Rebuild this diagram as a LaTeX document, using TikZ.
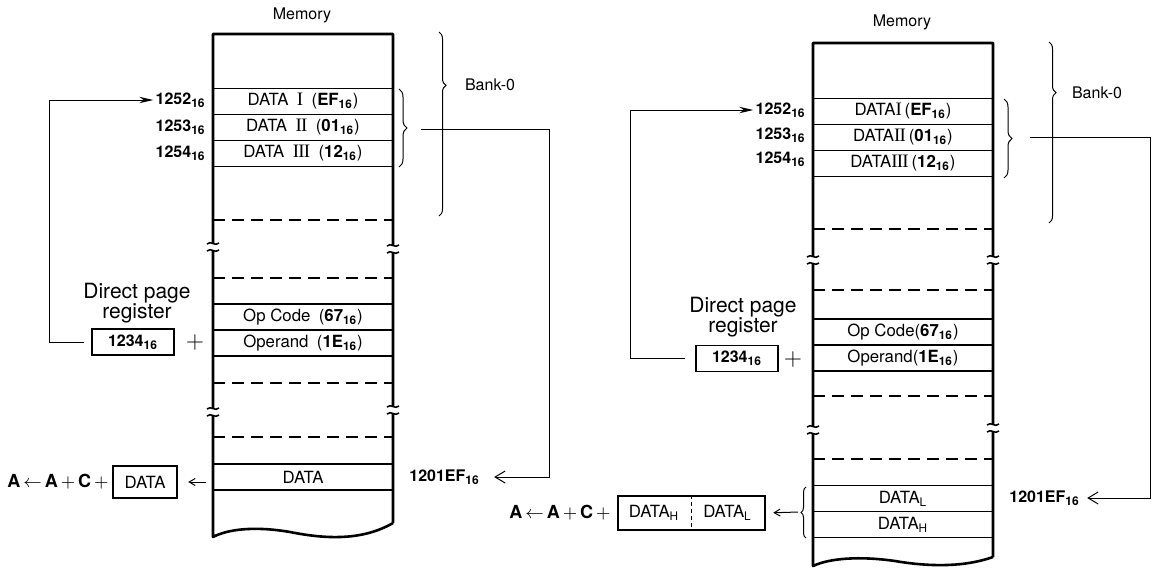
\documentclass[tikz,border=0pt]{standalone}
\usepackage{fontspec}
\setmainfont{TeX Gyre Heros}
\newfontfamily\romfont{Liberation Serif}
\usetikzlibrary{arrows.meta,decorations.pathreplacing}
\newcommand{\hex}[1]{\textbf{#1\textsubscript{16}}}
\newcommand{\rn}[1]{{\romfont\fontsize{9.5}{9.5}\selectfont #1}}

\begin{document}
\begin{tikzpicture}[x=0.5pt, y=-0.5pt,
    font=\fontsize{8}{9.6}\selectfont,
    colline/.style={line width=1.3pt, line join=round},
    dashline/.style={line width=0.7pt, dash pattern=on 6pt off 3.5pt},
    cell/.style={draw, line width=0.7pt, minimum width=90pt, minimum height=13pt, inner sep=0pt,
      font=\fontsize{8.4}{9.6}\selectfont},
    adr/.style={anchor=east, inner sep=1pt},
    regbox/.style={draw, line width=0.6pt, minimum width=41pt, minimum height=13pt, inner sep=0pt},
    accbox/.style={draw, line width=1.2pt, minimum height=16pt, inner sep=0pt},
    big/.style={font=\fontsize{10.5}{10}\selectfont, align=center},
    link/.style={line width=0.5pt},
    ptr/.style={link, -{Stealth[length=7pt, width=3.2pt]}},
    ret/.style={link, -{Straight Barb[length=5pt, width=6pt]}},
    tiny arrow/.style={link, -{Straight Barb[length=3pt, width=3.5pt]}},
    brace/.style={decorate, decoration={brace, amplitude=#1}, line width=0.5pt},
    brk/.pic={
      \fill[white] (-4,-3) rectangle (4,3);
      \draw[line width=0.8pt] (-6,-3) .. controls (-2,-7) and (2,0) .. (6,-4);
      \draw[line width=0.8pt] (-6,4) .. controls (-2,0) and (2,7) .. (6,3);
    }
]
\useasboundingbox (0,0) rectangle (1152,569);

% ---- left: page register + offset ----
\node (memL) at (302,15) {Memory};
\node[cell] (dL1) at (303,101.5) {DATA\enspace\rn{I}\enspace(\hex{EF})};
\node[cell] (dL2) at (303,127.5) {DATA\enspace\rn{I\kern-0.4ptI}\enspace(\hex{01})};
\node[cell] (dL3) at (303,153.5) {DATA\enspace\rn{I\kern-0.4ptI\kern-0.4ptI}\enspace(\hex{12})};
\node[cell] (opL) at (303,317) {Op Code\enspace(\hex{67})};
\node[cell] (oprL) at (303,343) {Operand\enspace(\hex{1E})};
\node[cell] (datL) at (303,477) {DATA};
\draw[dashline] (213,220) -- (393,220);
\draw[dashline] (213,278) -- (393,278);
\draw[dashline] (213,383) -- (393,383);
\draw[dashline] (213,437) -- (393,437);
\draw[colline] (393,523) -- (393,34) -- (213,34) -- (213,537)
  .. controls (228,529) and (255,526) .. (290,532)
  .. controls (325,539) and (362,541) .. (393,523);
\pic at (213,247) {brk};
\pic at (393,249) {brk};
\pic at (213,412) {brk};
\pic at (393,410) {brk};

\node[adr] (aL1) at (208,100) {\hex{1252}};
\node[adr] (aL2) at (208,127) {\hex{1253}};
\node[adr] (aL3) at (208,153) {\hex{1254}};

\node[big] (dprL) at (137,303) {Direct page\\register};
\node[regbox] (regL) at (133,342) {\hex{1234}};
\node (plusL) at (195,342) {\fontsize{12}{12}\selectfont$+$};
\draw[ptr, shorten <=3.5pt] (regL.west) -- ++(-42,0) |- (aL1.west);

\node[accbox, minimum width=32pt, font=\fontsize{8.4}{9.6}\selectfont] (accL) at (145,482) {DATA};
\node[anchor=east, inner sep=1pt] (eqL) at (111,482)
  {\fontsize{9}{9}\selectfont\bfseries A\,$\leftarrow$\,A\,$+$\,C\,$+$};
\draw[tiny arrow, shorten <=3pt, shorten >=5pt] (accL.east -| datL.west) -- (accL.east);

\draw[brace=4pt] (399,89) -- (399,167);
\draw[brace=3.5pt, decoration={aspect=0.29}] (439,32) -- (439,216);
\node[anchor=west] (bankL) at (458,85) {Bank-0};
\coordinate (brL) at (421,129);
\node[anchor=west, inner sep=1pt] (retL) at (407,477) {\hex{1201EF}};
\draw[ret, shorten >=6pt] (brL) -- ++(128,0) |- (retL.east);

% ---- right: 16-bit data ----
\node (memR) at (902,22) {Memory};
\node[cell] (dR1) at (903,111.5) {DATA\rn{I}\,(\hex{EF})};
\node[cell] (dR2) at (903,137.5) {DATA\rn{I\kern-0.4ptI}\,(\hex{01})};
\node[cell] (dR3) at (903,163.5) {DATA\rn{I\kern-0.4ptI\kern-0.4ptI}\,(\hex{12})};
\node[cell] (opR) at (903,332) {Op Code(\hex{67})};
\node[cell] (oprR) at (903,358) {Operand(\hex{1E})};
\node[cell] (dlR) at (903,498.5) {DATA\textsubscript{L}};
\node[cell] (dhR) at (903,524.5) {DATA\textsubscript{H}};
\draw[dashline] (813,229) -- (993,229);
\draw[dashline] (813,290) -- (993,290);
\draw[dashline] (813,396) -- (993,396);
\draw[dashline] (813,459) -- (993,459);
\draw[colline] (993,557) -- (993,43) -- (813,43) -- (813,566)
  .. controls (830,558) and (860,556) .. (895,561)
  .. controls (930,567) and (965,567) .. (993,557);
\pic at (813,260) {brk};
\pic at (993,260) {brk};
\pic at (813,430) {brk};
\pic at (993,428) {brk};

\node[adr] (aR1) at (808,110) {\hex{1252}};
\node[adr] (aR2) at (808,135) {\hex{1253}};
\node[adr] (aR3) at (808,159) {\hex{1254}};

\node[big] (dprR) at (743,317.5) {Direct page\\register};
\node[regbox] (regR) at (737,358.5) {\hex{1234}};
\node (plusR) at (793,359) {\fontsize{12}{12}\selectfont$+$};
\draw[ptr, shorten <=5pt] (regR.west) -- ++(-65,0) |- (aR1.west);

\node[accbox, minimum width=73.5pt, minimum height=17pt] (accR) at (691.5,513) {};
\node[font=\fontsize{8.4}{9.6}\selectfont] (hR) at (654,513) {DATA\textsubscript{H}};
\node[font=\fontsize{8.4}{9.6}\selectfont] (lR) at (727.5,513) {DATA\textsubscript{L}};
\draw[link, dash pattern=on 2pt off 1.5pt] (accR.north) -- (accR.south);
\node[anchor=east, inner sep=1pt] (eqR) at (613,513)
  {\fontsize{9}{9}\selectfont\bfseries A\,$\leftarrow$\,A\,$+$\,C\,$+$};
\draw[brace=2.5pt] (806,538) -- (806,487);
\coordinate (brR2) at (798,512);
\draw[tiny arrow, shorten >=3.5pt] (brR2) -- (accR.east);

\draw[brace=4pt] (1004,99) -- (1004,178);
\draw[brace=3.5pt, decoration={aspect=0.28}] (1049,42) -- (1049,223);
\node[anchor=west] (bankR) at (1065,93) {Bank-0};
\coordinate (brR) at (1030,137);
\node[anchor=west, inner sep=1pt] (retR) at (1007,498) {\hex{1201EF}};
\draw[ret, shorten >=2.5pt] (brR) -- ++(120,0) |- (retR.east);

\end{tikzpicture}
\end{document}
